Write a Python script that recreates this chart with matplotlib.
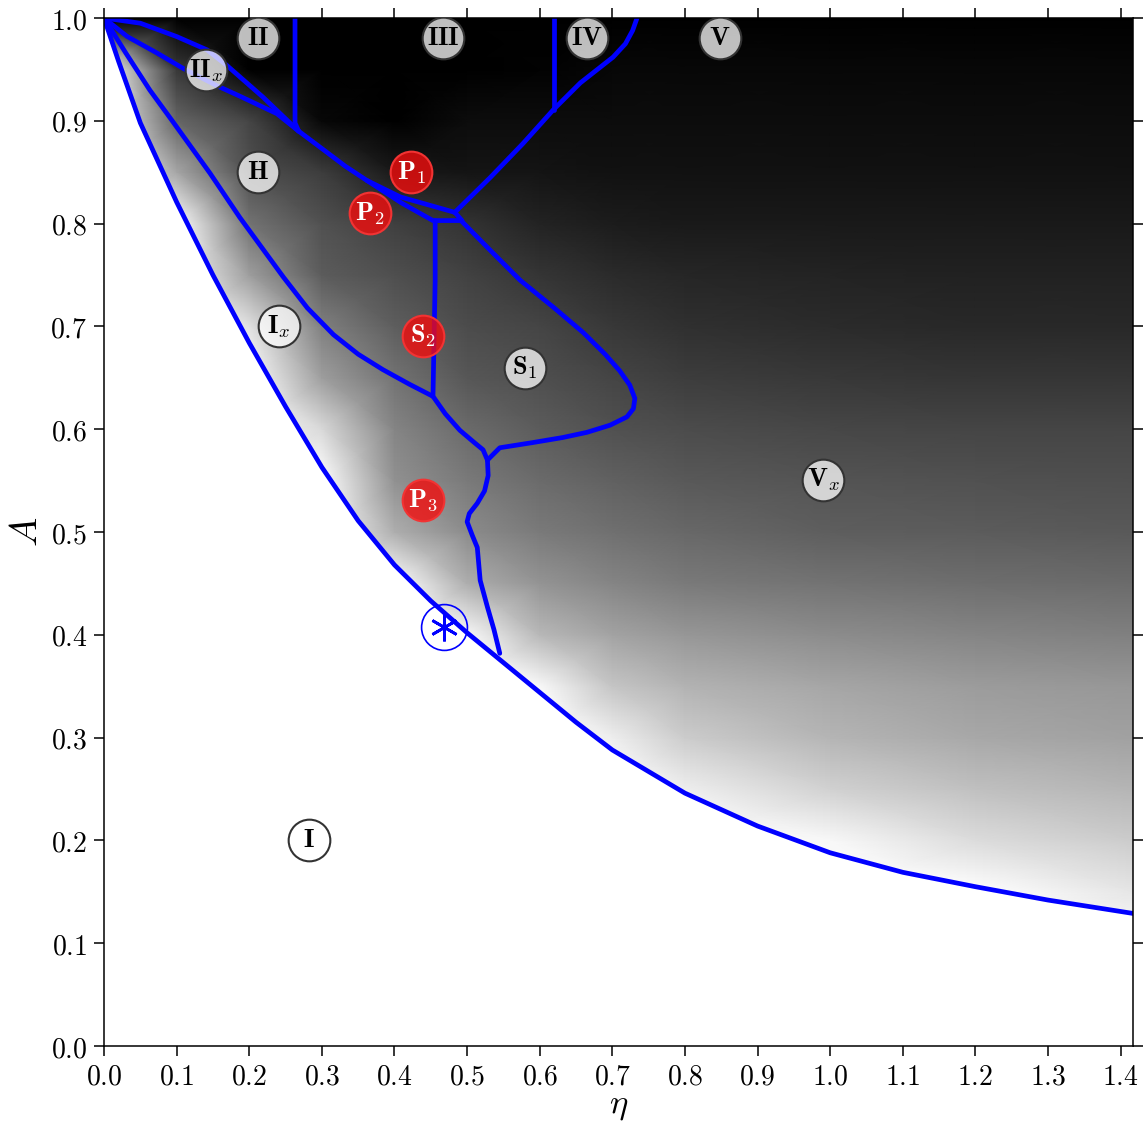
import numpy as np
import matplotlib
matplotlib.use('Agg')
import matplotlib.pyplot as plt
from matplotlib.ticker import MultipleLocator, FuncFormatter

plt.rcParams['mathtext.fontset'] = 'cm'

# ---- background grey level (0 = black, 1 = white) ----
bg_eta = [0.0, 0.1, 0.2, 0.3, 0.4, 0.5, 0.6, 0.7, 0.8, 1.0, 1.2, 1.417]
bg_A = [0.0, 0.05, 0.1, 0.15, 0.2, 0.25, 0.3, 0.35, 0.4, 0.45, 0.5,
        0.55, 0.6, 0.65, 0.7, 0.75, 0.8, 0.85, 0.9, 0.95, 1.0]
bg_gray = [
    [1, 1, 1, 1, 1, 1, 1, 1, 1, 1, 1, 1],
    [1, 1, 1, 1, 1, 1, 1, 1, 1, 1, 1, 1],
    [1, 1, 1, 1, 1, 1, 1, 1, 1, 1, 1, 1],
    [1, 1, 1, 1, 1, 1, 1, 1, 1, 1, 1, 0.90],
    [1, 1, 1, 1, 1, 1, 1, 1, 1, 0.97, 0.86, 0.80],
    [1, 1, 1, 1, 1, 1, 1, 1, 0.93, 0.82, 0.75, 0.71],
    [1, 1, 1, 1, 1, 1, 1, 0.93, 0.80, 0.71, 0.66, 0.63],
    [1, 1, 1, 1, 1, 1, 0.97, 0.77, 0.70, 0.65, 0.61, 0.59],
    [1, 1, 1, 1, 1, 0.97, 0.72, 0.64, 0.59, 0.55, 0.52, 0.50],
    [1, 1, 1, 1, 1, 0.68, 0.58, 0.52, 0.48, 0.45, 0.43, 0.42],
    [1, 1, 1, 1, 0.68, 0.55, 0.48, 0.44, 0.41, 0.37, 0.36, 0.35],
    [1, 1, 1, 1, 0.57, 0.48, 0.42, 0.38, 0.35, 0.33, 0.32, 0.31],
    [1, 1, 1, 0.85, 0.52, 0.42, 0.36, 0.32, 0.30, 0.28, 0.27, 0.27],
    [1, 1, 1, 0.62, 0.45, 0.34, 0.31, 0.27, 0.24, 0.22, 0.21, 0.21],
    [1, 1, 0.88, 0.50, 0.37, 0.30, 0.27, 0.22, 0.19, 0.17, 0.16, 0.16],
    [1, 1, 0.62, 0.36, 0.31, 0.26, 0.21, 0.17, 0.15, 0.14, 0.13, 0.13],
    [1, 1, 0.45, 0.32, 0.25, 0.20, 0.14, 0.11, 0.10, 0.10, 0.10, 0.10],
    [1, 0.65, 0.31, 0.24, 0.10, 0.08, 0.08, 0.07, 0.07, 0.07, 0.07, 0.07],
    [1, 0.40, 0.27, 0.03, 0.0, 0.05, 0.05, 0.05, 0.05, 0.05, 0.05, 0.05],
    [1, 0.22, 0.0, 0.0, 0.0, 0.0, 0.01, 0.03, 0.03, 0.03, 0.03, 0.03],
    [0, 0, 0, 0, 0, 0, 0, 0, 0, 0, 0, 0],
]

# ---- phase boundaries ----
low_eta = [0.0, 0.02, 0.05, 0.1, 0.15, 0.2, 0.25, 0.3, 0.35, 0.4, 0.45, 0.5,
           0.55, 0.6, 0.65, 0.7, 0.8, 0.9, 1.0, 1.1, 1.2, 1.3, 1.417]
low_A = [1.0, 0.958, 0.898, 0.821, 0.750, 0.684, 0.622, 0.563, 0.511, 0.468,
         0.433, 0.402, 0.373, 0.344, 0.315, 0.288, 0.246, 0.214, 0.188, 0.169,
         0.155, 0.142, 0.129]

hix_eta = [0.0, 0.03, 0.063, 0.095, 0.146, 0.187, 0.247, 0.28, 0.316, 0.35,
           0.384, 0.42, 0.453]
hix_A = [1.0, 0.966, 0.930, 0.899, 0.849, 0.806, 0.748, 0.718, 0.692, 0.673,
         0.658, 0.644, 0.632]

ii_eta = [0.0, 0.05, 0.10, 0.142, 0.169, 0.219, 0.256, 0.268]
ii_A = [1.0, 0.995, 0.982, 0.969, 0.954, 0.923, 0.898, 0.890]

iix_eta = [0.0, 0.032, 0.073, 0.109, 0.156, 0.187, 0.238, 0.268]
iix_A = [1.0, 0.982, 0.966, 0.951, 0.934, 0.924, 0.907, 0.890]

v23_eta = [0.263, 0.263, 0.268]
v23_A = [1.0, 0.898, 0.890]

p1_eta = [0.268, 0.302, 0.332, 0.362, 0.408, 0.453, 0.483]
p1_A = [0.890, 0.872, 0.856, 0.842, 0.826, 0.817, 0.811]

p2_eta = [0.362, 0.41, 0.453, 0.493, 0.483]
p2_A = [0.842, 0.820, 0.803, 0.803, 0.811]

iv_eta = [0.483, 0.532, 0.577, 0.619, 0.656, 0.701, 0.718, 0.728, 0.734]
iv_A = [0.811, 0.845, 0.878, 0.911, 0.937, 0.962, 0.975, 0.988, 1.0]

v34_eta = [0.620, 0.620]
v34_A = [1.0, 0.911]

s1_eta = [0.493, 0.532, 0.573, 0.620, 0.660, 0.690, 0.710, 0.724, 0.731, 0.729,
          0.720, 0.697, 0.665, 0.632, 0.590, 0.545, 0.528]
s1_A = [0.802, 0.774, 0.745, 0.718, 0.694, 0.673, 0.657, 0.643, 0.630, 0.620,
        0.612, 0.604, 0.597, 0.592, 0.587, 0.582, 0.570]

s2_eta = [0.456, 0.456, 0.453, 0.470, 0.490, 0.510, 0.522, 0.528]
s2_A = [0.803, 0.745, 0.632, 0.615, 0.599, 0.587, 0.580, 0.570]

p3_eta = [0.528, 0.529, 0.524, 0.514, 0.503, 0.500, 0.507, 0.514, 0.518, 0.528,
          0.537, 0.545]
p3_A = [0.570, 0.555, 0.540, 0.528, 0.518, 0.510, 0.497, 0.485, 0.453, 0.427,
        0.405, 0.382]

# ---- region labels ----
grey_labels = [r'$\mathbf{II}$', r'$\mathbf{III}$', r'$\mathbf{IV}$', r'$\mathbf{V}$',
               r'$\mathbf{II}_x$', r'$\mathbf{H}$', r'$\mathbf{I}_x$', r'$\mathbf{S}_1$',
               r'$\mathbf{V}_x$', r'$\mathbf{I}$']
grey_eta = [0.212, 0.467, 0.665, 0.848, 0.140, 0.212, 0.241, 0.580, 0.990, 0.282]
grey_A = [0.981, 0.981, 0.981, 0.981, 0.949, 0.850, 0.700, 0.660, 0.551, 0.200]

red_labels = [r'$\mathbf{P}_1$', r'$\mathbf{P}_2$', r'$\mathbf{S}_2$', r'$\mathbf{P}_3$']
red_eta = [0.423, 0.366, 0.439, 0.439]
red_A = [0.850, 0.810, 0.691, 0.531]

star_eta = [0.468]
star_A = [0.408]

# ---- figure ----
fig = plt.figure(figsize=(11.47, 11.22), dpi=100)
ax = fig.add_axes([0.0907, 0.0677, 0.8971, 0.9162])

E, AA = np.meshgrid(bg_eta, bg_A)
ax.pcolormesh(E, AA, np.array(bg_gray), shading='gouraud', cmap='gray',
              vmin=0, vmax=1, zorder=0)
ax.fill_between(low_eta, 0, low_A, color='white', lw=0, zorder=1)

blue = '#0000ff'
for xs, ys in [(low_eta, low_A), (hix_eta, hix_A), (ii_eta, ii_A), (iix_eta, iix_A),
               (v23_eta, v23_A), (p1_eta, p1_A), (p2_eta, p2_A), (iv_eta, iv_A),
               (v34_eta, v34_A), (s1_eta, s1_A), (s2_eta, s2_A), (p3_eta, p3_A)]:
    ax.plot(xs, ys, color=blue, lw=3.4, solid_joinstyle='round',
            solid_capstyle='round', zorder=2)

ax.scatter(grey_eta, grey_A, s=900, facecolors=[(1, 1, 1, 0.75)],
           edgecolors='#333333', linewidths=1.5, zorder=5)
for lab, x, y in zip(grey_labels, grey_eta, grey_A):
    ax.text(x, y, lab, ha='center', va='center', fontsize=19, color='black', zorder=6)

ax.scatter(red_eta, red_A, s=900, facecolors=[(0.95, 0.05, 0.05, 0.8)],
           edgecolors=[(0.95, 0.2, 0.2, 1.0)], linewidths=1.5, zorder=5)
for lab, x, y in zip(red_labels, red_eta, red_A):
    ax.text(x, y, lab, ha='center', va='center', fontsize=19, color='white', zorder=6)

ax.plot(star_eta, star_A, marker='o', ms=33, mfc='none', mec=blue, mew=1.2,
        ls='none', zorder=4)
ax.plot(star_eta, star_A, marker=(6, 2, 0), ms=20, mec=blue, mew=2.0,
        ls='none', zorder=4)

ax.set_xlim(0, 1.417)
ax.set_ylim(0, 1.0)
ax.xaxis.set_major_locator(MultipleLocator(0.1))
ax.yaxis.set_major_locator(MultipleLocator(0.1))
fmt = FuncFormatter(lambda v, p: r'$%.1f$' % v)
ax.xaxis.set_major_formatter(fmt)
ax.yaxis.set_major_formatter(fmt)
ax.tick_params(direction='out', length=7, width=1.1, labelsize=20,
               top=True, right=True, pad=5)
for sp in ax.spines.values():
    sp.set_linewidth(1.1)

ax.set_xlabel(r'$\eta$', fontsize=25, labelpad=-2)
ax.set_ylabel(r'$A$', fontsize=28, labelpad=4)

fig.savefig('out.png', dpi=100)
